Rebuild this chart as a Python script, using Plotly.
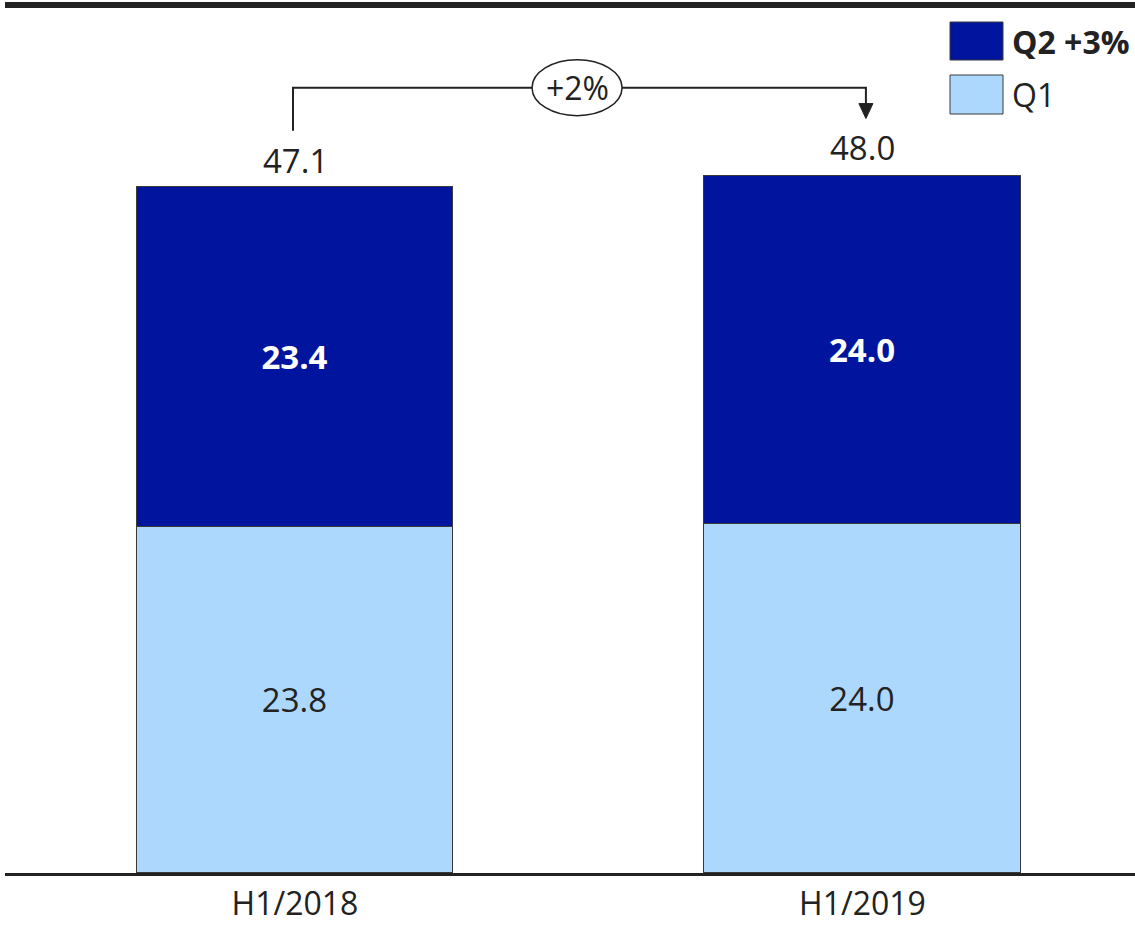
import plotly.graph_objects as go

periods = ["H1/2018", "H1/2019"]
q1_values = [23.8, 24.0]
q2_values = [23.4, 24.0]
totals = [47.1, 48.0]
growth_label = "+2%"
legend_labels = ["<b>Q2 +3%</b>", "Q1"]

DARK = "#00149E"
LIGHT = "#ADD8FE"
EDGE = "#3a3a3a"
INK = "#222222"
FONT = "Open Sans"

W, H = 1135, 925
ML, MB = 5, 52
plot_h = H - MB
px_per_unit = 14.53
y_top = plot_h / px_per_unit

xs = [0, 1]
bar_w = 0.557

fig = go.Figure()
fig.add_trace(go.Bar(
    x=xs, y=q1_values, width=bar_w, name="Q1",
    marker=dict(color=LIGHT, line=dict(color=EDGE, width=1)),
    text=[f"{v:.1f}" for v in q1_values], textposition="inside",
    insidetextanchor="middle", textangle=0,
    textfont=dict(family=FONT, size=33, color=INK),
))
fig.add_trace(go.Bar(
    x=xs, y=q2_values, width=bar_w, name="Q2",
    marker=dict(color=DARK, line=dict(color=EDGE, width=1)),
    text=[f"<b>{v:.1f}</b>" for v in q2_values], textposition="inside",
    insidetextanchor="middle", textangle=0,
    textfont=dict(family=FONT, size=33, color="white"),
))

# totals above each stack
for x, t in zip(xs, totals):
    fig.add_annotation(x=x, y=t, text=f"{t:.1f}", showarrow=False,
                       yanchor="bottom", yshift=4,
                       font=dict(family=FONT, size=33, color=INK))

# growth connector between the two totals
u = 1 / px_per_unit
bracket_y = totals[0] + 101 * u
fig.add_shape(type="path", xref="x", yref="y",
              path=(f"M {xs[0] - 0.0035} {totals[0] + 58 * u} "
                    f"L {xs[0] - 0.0035} {bracket_y} "
                    f"L {xs[1] + 0.006} {bracket_y} "
                    f"L {xs[1] + 0.006} {totals[1] + 70 * u}"),
              line=dict(color=INK, width=2))
ax = xs[1] + 0.006
aw = 7 / 567.5
fig.add_shape(type="path", xref="x", yref="y",
              path=(f"M {ax - aw} {totals[1] + 72 * u} L {ax + aw} {totals[1] + 72 * u} "
                    f"L {ax} {totals[1] + 57 * u} Z"),
              fillcolor=INK, line=dict(color=INK, width=1))
cx = 0.497
fig.add_shape(type="circle", xref="x", yref="y",
              x0=cx - 45 / 567.5, x1=cx + 45 / 567.5,
              y0=bracket_y - 28 * u, y1=bracket_y + 28 * u,
              fillcolor="white", line=dict(color=INK, width=1.5))
fig.add_annotation(x=cx, y=bracket_y, text=growth_label, showarrow=False,
                   font=dict(family=FONT, size=32, color=INK))

# heavy rule across the top
fig.add_shape(type="line", xref="paper", yref="paper",
              x0=0, x1=1, y0=1 - 5 / plot_h, y1=1 - 5 / plot_h,
              line=dict(color=INK, width=6))

# legend boxes
def paper_y(py):
    return (plot_h - py) / plot_h

def paper_x(px):
    return (px - ML) / (W - ML)

for (top, bot), color, label in zip([(22, 60), (75, 114)], [DARK, LIGHT], legend_labels):
    fig.add_shape(type="rect", xref="paper", yref="paper",
                  x0=paper_x(950), x1=paper_x(1003), y0=paper_y(bot), y1=paper_y(top),
                  fillcolor=color, line=dict(color=EDGE, width=1))
    fig.add_annotation(xref="paper", yref="paper", x=paper_x(1010),
                       y=paper_y((top + bot) / 2), text=label, showarrow=False,
                       xanchor="left", yanchor="middle",
                       font=dict(family=FONT, size=32, color=INK))

fig.update_layout(
    width=W, height=H, barmode="stack", showlegend=False,
    margin=dict(l=ML, r=0, t=0, b=MB, autoexpand=False),
    paper_bgcolor="white", plot_bgcolor="white",
    bargap=0,
)
fig.update_xaxes(
    range=[-(295 - ML) / 567.5, (W - 295) / 567.5],
    tickvals=xs, ticktext=periods, showgrid=False, zeroline=False,
    showline=True, linecolor=INK, linewidth=2.5, automargin=False,
    ticks="", ticklabelstandoff=1,
    tickfont=dict(family=FONT, size=32, color=INK),
)
fig.update_yaxes(range=[0, y_top], visible=False, showgrid=False, automargin=False)

fig.write_html("out.html")
